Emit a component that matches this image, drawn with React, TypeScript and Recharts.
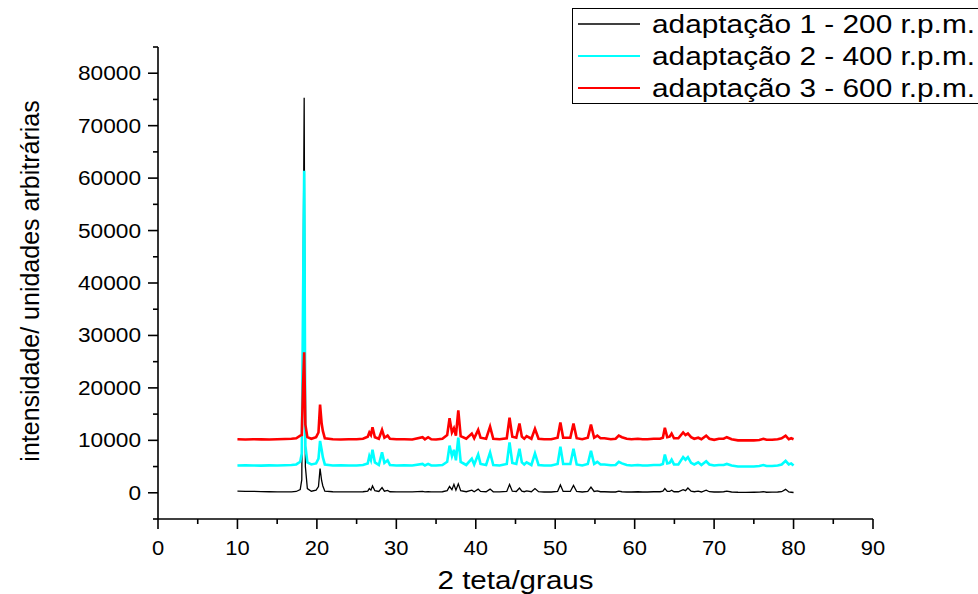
import { LineChart, Line, XAxis, YAxis, Legend, Label } from "recharts";

// 2θ positions (deg) shared by the three patterns
const angles = [
  10, 11, 12, 13, 14, 15, 16, 16.8, 17.4, 17.9,
  18.1, 18.25, 18.4, 18.55, 18.8, 19.3, 19.9, 20.2, 20.4, 20.6,
  20.75, 21.0, 22, 23, 24, 25, 25.8, 26.4, 26.6, 26.8,
  27.0, 27.3, 27.8, 28.2, 28.5, 28.9, 29.2, 30, 31, 32,
  33.3, 33.6, 34.0, 34.4, 35, 35.8, 36.4, 36.7, 37.0, 37.25,
  37.5, 37.8, 38.1, 38.8, 39.5, 39.8, 40.3, 40.6, 41.3, 41.8,
  42.2, 43.0, 43.9, 44.25, 44.6, 45.1, 45.5, 45.8, 46.1, 46.4,
  47.0, 47.45, 47.9, 48.6, 49.5, 50.3, 50.65, 51.0, 51.9, 52.3,
  52.7, 53.4, 54.1, 54.5, 54.9, 55.3, 55.7, 56.2, 57.0, 57.6,
  58.0, 58.4, 59.0, 59.6, 60.4, 61.0, 61.6, 62.4, 63.2, 63.55,
  63.8, 64.1, 64.4, 64.65, 64.95, 65.5, 66.1, 66.4, 66.7, 67.1,
  67.5, 68.0, 68.4, 69.0, 69.4, 70.0, 70.6, 71.2, 71.6, 72.2,
  73.0, 74.0, 75.0, 75.7, 76.2, 76.6, 77.3, 78.0, 78.5, 79.0,
  79.4, 79.7, 80.0,
];

// adaptação 1 - 200 r.p.m.
const run200 = [
  300, 280, 260, 230, 200, 180, 170, 180, 250, 600,
  2500, 35000, 75300, 5000, 800, 300, 500, 1200, 4600, 2300,
  1300, 300, 200, 180, 170, 170, 200, 300, 800, 500,
  1300, 400, 250, 1000, 300, 450, 200, 180, 170, 160,
  250, 180, 220, 170, 170, 200, 400, 1200, 600, 1600,
  500, 1700, 400, 200, 500, 200, 700, 250, 200, 700,
  200, 180, 250, 1600, 300, 250, 900, 300, 200, 350,
  200, 800, 200, 150, 150, 250, 1500, 250, 250, 1400,
  250, 150, 250, 1100, 250, 350, 200, 200, 150, 150,
  300, 200, 150, 150, 200, 150, 150, 200, 200, 300,
  800, 250, 250, 500, 200, 200, 600, 400, 900, 300,
  200, 300, 150, 500, 200, 150, 150, 200, 300, 150,
  100, 80, 100, 120, 200, 100, 120, 150, 200, 650,
  150, 100, 50,
];

// adaptação 2 - 400 r.p.m.
const run400 = [
  5200, 5250, 5200, 5180, 5220, 5200, 5250, 5300, 5400, 5900,
  7500, 35000, 61400, 9000, 5800, 5400, 5600, 6500, 9900, 8200,
  6800, 5400, 5200, 5250, 5200, 5200, 5300, 5600, 7000, 6200,
  8200, 5800, 5300, 7700, 5700, 6200, 5300, 5200, 5250, 5200,
  5500, 5200, 5500, 5200, 5200, 5300, 5900, 9000, 7000, 8200,
  6200, 10500, 5900, 5300, 6500, 5400, 7300, 5500, 5300, 7700,
  5300, 5200, 5500, 9600, 5700, 5500, 8400, 5800, 5400, 5800,
  5300, 7500, 5300, 5200, 5200, 5500, 8800, 5500, 5500, 8400,
  5400, 5200, 5500, 8000, 5500, 5900, 5400, 5400, 5250, 5300,
  5900, 5600, 5300, 5200, 5300, 5200, 5200, 5300, 5300, 5500,
  7300, 5600, 5700, 6300, 5400, 5400, 6800, 6300, 6800, 5700,
  5400, 5800, 5300, 6000, 5400, 5200, 5300, 5300, 5500, 5200,
  5000, 5000, 5000, 5100, 5300, 5100, 5100, 5200, 5400, 6100,
  5400, 5600, 5200,
];

// adaptação 3 - 600 r.p.m.
const run600 = [
  10200, 10150, 10200, 10180, 10150, 10200, 10250, 10300, 10400, 10900,
  11000, 20000, 26800, 13000, 10600, 10300, 10600, 11500, 16800, 13200,
  11800, 10400, 10200, 10150, 10200, 10200, 10300, 10700, 11500, 11000,
  12500, 10600, 10300, 12000, 10500, 10900, 10300, 10200, 10200, 10150,
  10600, 10200, 10600, 10200, 10150, 10300, 11000, 14200, 11500, 12300,
  10900, 15700, 10800, 10300, 11300, 10400, 12000, 10500, 10300, 12600,
  10300, 10200, 10400, 14300, 10700, 10500, 13200, 10700, 10300, 10800,
  10300, 12200, 10300, 10200, 10200, 10500, 13400, 10500, 10500, 13200,
  10400, 10200, 10500, 13000, 10500, 10900, 10400, 10400, 10200, 10300,
  10900, 10600, 10300, 10200, 10300, 10200, 10200, 10300, 10300, 10500,
  12400, 10600, 10700, 11300, 10400, 10400, 11500, 11000, 11300, 10600,
  10300, 10500, 10200, 10900, 10300, 10100, 10300, 10300, 10600, 10200,
  10000, 10000, 10000, 10050, 10300, 10100, 10100, 10200, 10400, 10900,
  10200, 10400, 10200,
];

const xTicks = [0, 5, 10, 15, 20, 25, 30, 35, 40, 45, 50, 55, 60, 65, 70, 75, 80, 85, 90];
const yTicks = [
  -5000, 0, 5000, 10000, 15000, 20000, 25000, 30000, 35000, 40000,
  45000, 50000, 55000, 60000, 65000, 70000, 75000, 80000, 85000,
];

const series = [
  { key: "a1", name: "adaptação 1 - 200 r.p.m.", color: "#000000", width: 1.3 },
  { key: "a2", name: "adaptação 2 - 400 r.p.m.", color: "#00FFFF", width: 2.6 },
  { key: "a3", name: "adaptação 3 - 600 r.p.m.", color: "#FF0000", width: 2.6 },
];

const data = angles.map((t, i) => ({ t, a1: run200[i], a2: run400[i], a3: run600[i] }));

const FONT = "'Liberation Sans', Arial, sans-serif";
const TICK = 10;
const GAP = 2;

const XTick = ({ x, y, payload }: any) => {
  const v = payload.value;
  const axisY = y - TICK - GAP;
  const major = v % 10 === 0;
  const label = String(v);
  return (
    <g>
      <line x1={x} x2={x} y1={axisY} y2={axisY + (major ? 10 : 5)} stroke="#000" strokeWidth={1.6} />
      {major && (
        <text x={x} y={axisY + 36} textAnchor="middle" fontSize={20} fontFamily={FONT} fill="#000"
          textLength={label.length * 12.2} lengthAdjust="spacingAndGlyphs">
          {label}
        </text>
      )}
    </g>
  );
};

const YTick = ({ x, y, payload }: any) => {
  const v = payload.value;
  const axisX = x + TICK + GAP;
  const major = v % 10000 === 0;
  const label = String(v);
  return (
    <g>
      <line x1={axisX - (major ? 10 : 5)} x2={axisX} y1={y} y2={y} stroke="#000" strokeWidth={1.6} />
      {major && (
        <text x={axisX - 17} y={y + 7} textAnchor="end" fontSize={20} fontFamily={FONT} fill="#000"
          textLength={label.length * 12.6} lengthAdjust="spacingAndGlyphs">
          {label}
        </text>
      )}
    </g>
  );
};

const LegendBox = () => (
  <svg width={406} height={97} style={{ display: "block" }}>
    <rect x={0.5} y={0.5} width={440} height={95} fill="#fff" stroke="#000" strokeWidth={1} />
    {series.map((s, i) => {
      const cy = 16 + i * 32;
      return (
        <g key={s.key}>
          <line x1={6} x2={68} y1={cy} y2={cy} stroke={s.color} strokeWidth={s.key === "a1" ? 1.3 : 2.2} />
          <text x={80} y={cy + 9} fontSize={26} fontFamily={FONT} fill="#000"
            textLength={323} lengthAdjust="spacingAndGlyphs">
            {s.name}
          </text>
        </g>
      );
    })}
  </svg>
);

const App = () => {
  return (
    <div style={{ position: "absolute", left: 0, top: 0, background: "#fff" }}>
      <LineChart width={978} height={594} data={data} margin={{ top: 47, right: 105, bottom: 0, left: 0 }}>
        <XAxis
          dataKey="t"
          type="number"
          domain={[0, 90]}
          ticks={xTicks}
          interval={0}
          height={75}
          tickSize={TICK}
          tickMargin={GAP}
          tickLine={false}
          tick={<XTick />}
          axisLine={{ stroke: "#000", strokeWidth: 1.6 }}
          label={
            <Label
              content={({ viewBox }: any) => (
                <text x={viewBox.x + viewBox.width / 2} y={viewBox.y + 70} textAnchor="middle"
                  fontSize={26} fontFamily={FONT} fill="#000" textLength={156} lengthAdjust="spacingAndGlyphs">
                  2 teta/graus
                </text>
              )}
            />
          }
        />
        <YAxis
          type="number"
          domain={[-5000, 85000]}
          ticks={yTicks}
          interval={0}
          width={158}
          tickSize={TICK}
          tickMargin={GAP}
          tickLine={false}
          tick={<YTick />}
          allowDataOverflow
          axisLine={{ stroke: "#000", strokeWidth: 1.6 }}
          label={
            <Label
              content={({ viewBox }: any) => {
                const cx = viewBox.x + 30;
                const cy = viewBox.y + viewBox.height / 2 - 2;
                return (
                  <text x={cx} y={cy} transform={`rotate(-90 ${cx} ${cy})`} textAnchor="middle"
                    dominantBaseline="central" fontSize={25} fontFamily={FONT} fill="#000">
                    intensidade/ unidades arbitrárias
                  </text>
                );
              }}
            />
          }
        />
        <Legend
          layout="vertical"
          align="center"
          verticalAlign="middle"
          content={<LegendBox />}
          wrapperStyle={{ position: "absolute", left: 572, top: 8, width: 406, height: 97 }}
        />
        {series.map((s) => (
          <Line
            key={s.key}
            dataKey={s.key}
            name={s.name}
            type="linear"
            stroke={s.color}
            strokeWidth={s.width}
            dot={false}
            activeDot={false}
            isAnimationActive={false}
          />
        ))}
      </LineChart>
    </div>
  );
};

export default App;
